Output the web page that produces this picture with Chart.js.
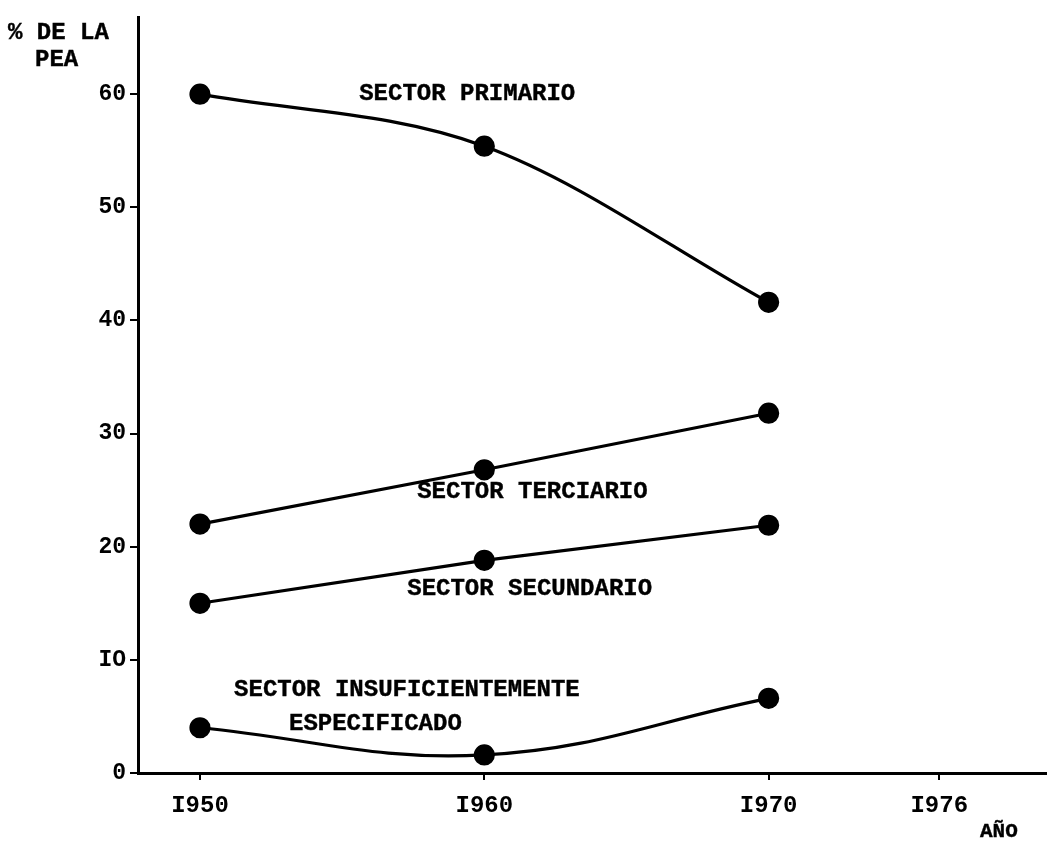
<!DOCTYPE html>
<html>
<head>
<meta charset="utf-8">
<script src="https://cdn.jsdelivr.net/npm/chart.js@4.4.1/dist/chart.umd.min.js"></script>
<style>
  html, body { margin: 0; padding: 0; background: #fff; }
  #wrap { width: 1047px; height: 843px; position: relative; }
</style>
</head>
<body>
<div id="wrap"><canvas id="chart"></canvas></div>
<script>
// data
const years = [1950, 1960, 1970];
const primario = [60.0, 55.4, 41.6];
const terciario = [22.0, 26.8, 31.8];
const secundario = [15.0, 18.8, 21.9];
const insuficiente = [4.0, 1.6, 6.6];

const xTickValues = [1950, 1960, 1970, 1976];
const xTickLabels = ['I950', 'I960', 'I970', 'I976'];
const yTickValues = [0, 10, 20, 30, 40, 50, 60];
const yTickLabels = ['0', 'IO', '20', '30', '40', '50', '60'];

// text notes on the chart (anchored in data units)
const notes = [
  { text: 'SECTOR PRIMARIO', x: 1955.6, y: 60.0 },
  { text: 'SECTOR TERCIARIO', x: 1957.64, y: 24.85 },
  { text: 'SECTOR SECUNDARIO', x: 1957.29, y: 16.27 },
  { text: 'SECTOR INSUFICIENTEMENTE', x: 1951.2, y: 7.35 },
  { text: 'ESPECIFICADO', x: 1953.13, y: 4.37 }
];

const mono = '"Liberation Mono", "Courier New", monospace';

function series(vals, opts) {
  return Object.assign({
    data: years.map((y, i) => ({ x: y, y: vals[i] })),
    borderColor: '#000',
    backgroundColor: '#000',
    borderWidth: 3.2,
    pointRadius: 9,
    pointHoverRadius: 9,
    tension: 0
  }, opts);
}

function heavyText(ctx, text, x, y) {
  ctx.fillText(text, x, y);
  ctx.strokeText(text, x, y);
}

const notesPlugin = {
  id: 'notes',
  afterDraw(chart) {
    const ctx = chart.ctx;
    const xs = chart.scales.x, ys = chart.scales.y;
    ctx.save();
    ctx.fillStyle = '#000';
    ctx.strokeStyle = '#000';
    ctx.lineWidth = 0.4;
    ctx.font = 'bold 24px ' + mono;
    ctx.textAlign = 'left';
    ctx.textBaseline = 'middle';
    notes.forEach(n => {
      heavyText(ctx, n.text, xs.getPixelForValue(n.x), ys.getPixelForValue(n.y));
    });
    // axis titles
    heavyText(ctx, '% DE LA', 8, 33);
    heavyText(ctx, 'PEA', 35, 60);
    ctx.font = 'bold 21px ' + mono;
    heavyText(ctx, 'AÑO', 980, 832);
    ctx.restore();
  }
};

new Chart(document.getElementById('chart'), {
  type: 'line',
  data: {
    datasets: [
      series(primario, { cubicInterpolationMode: 'monotone' }),
      series(terciario),
      series(secundario),
      series(insuficiente, { tension: 0.4 })
    ]
  },
  options: {
    responsive: true,
    maintainAspectRatio: false,
    animation: false,
    layout: { autoPadding: false, padding: { top: 10, left: 0, right: 0, bottom: 0 } },
    plugins: { legend: { display: false }, tooltip: { enabled: false } },
    scales: {
      x: {
        type: 'linear',
        min: 1947.82,
        max: 1979.79,
        afterBuildTicks: s => { s.ticks = xTickValues.map(v => ({ value: v })); },
        afterFit: s => { s.height = 70; },
        border: { display: true, color: '#000', width: 3 },
        grid: { drawOnChartArea: false, drawTicks: true, tickLength: 7, color: '#000', lineWidth: 2 },
        ticks: {
          color: '#000',
          padding: 12,
          font: { family: mono, size: 24, weight: 'bold' },
          callback: v => xTickLabels[xTickValues.indexOf(v)]
        }
      },
      y: {
        type: 'linear',
        min: 0,
        max: 66.75,
        afterBuildTicks: s => { s.ticks = yTickValues.map(v => ({ value: v })); },
        afterFit: s => { s.width = 138; },
        border: { display: true, color: '#000', width: 3 },
        grid: { drawOnChartArea: false, drawTicks: true, tickLength: 8, color: '#000', lineWidth: 2 },
        ticks: {
          color: '#000',
          padding: 4,
          font: { family: mono, size: 23, weight: 'bold' },
          callback: v => yTickLabels[yTickValues.indexOf(v)]
        }
      }
    }
  },
  plugins: [notesPlugin]
});
</script>
</body>
</html>
